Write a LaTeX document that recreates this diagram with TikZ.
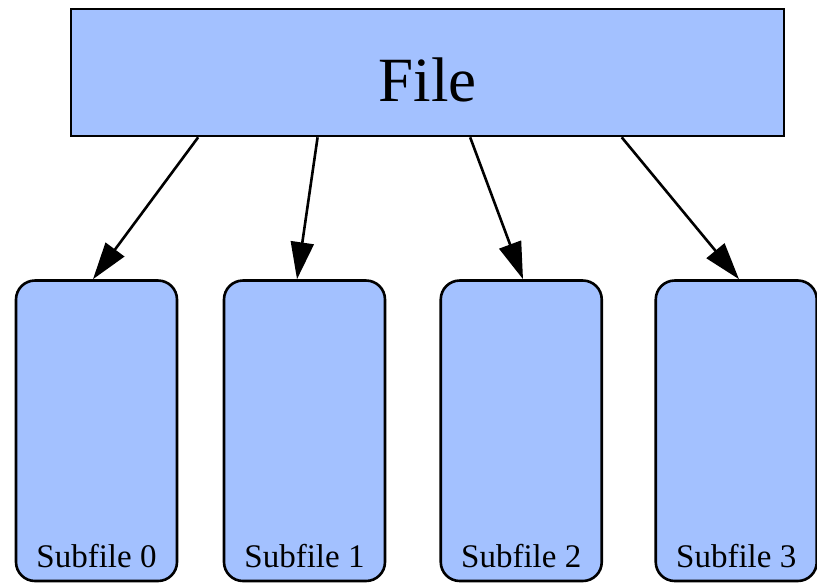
\documentclass[tikz,border=0pt]{standalone}
\usepackage{fontspec}
\setmainfont{Liberation Serif}
\usetikzlibrary{arrows.meta,calc}
\definecolor{boxblue}{HTML}{A3C1FF}
\begin{document}
\begin{tikzpicture}[x=1pt,y=-1pt,
  box/.style={draw=black, line width=2.6pt, fill=boxblue, inner sep=0pt, text depth=0pt},
  filebox/.style={box, minimum width=713pt, minimum height=127pt, text height=57pt, font=\fontsize{63}{70}\selectfont},
  subbox/.style={box, rounded corners=19pt, minimum width=161pt, minimum height=300.5pt, text height=272.5pt, font=\fontsize{33}{36}\selectfont},
  link/.style={line width=2.6pt, -{Triangle[length=37pt,width=23pt]}}]
\useasboundingbox (0,0) rectangle (817,582);
\node[filebox] (file) at (427.5,72.5) {File};
\node[subbox] (s0) at (96.5,430.75) {Subfile 0};
\node[subbox] (s1) at (304.5,430.75) {Subfile 1};
\node[subbox] (s2) at (521.25,430.75) {Subfile 2};
\node[subbox] (s3) at (736.25,430.75) {Subfile 3};
\draw[link] ($(file.south west)!0.1795!(file.south east)$) -- ([xshift=-3.5pt]s0.north);
\draw[link] ($(file.south west)!0.3464!(file.south east)$) -- ([xshift=-7.5pt]s1.north);
\draw[link] ($(file.south west)!0.5596!(file.south east)$) -- ([xshift=1.75pt]s2.north);
\draw[link] ($(file.south west)!0.7714!(file.south east)$) -- ([xshift=2.75pt]s3.north);
\end{tikzpicture}
\end{document}
